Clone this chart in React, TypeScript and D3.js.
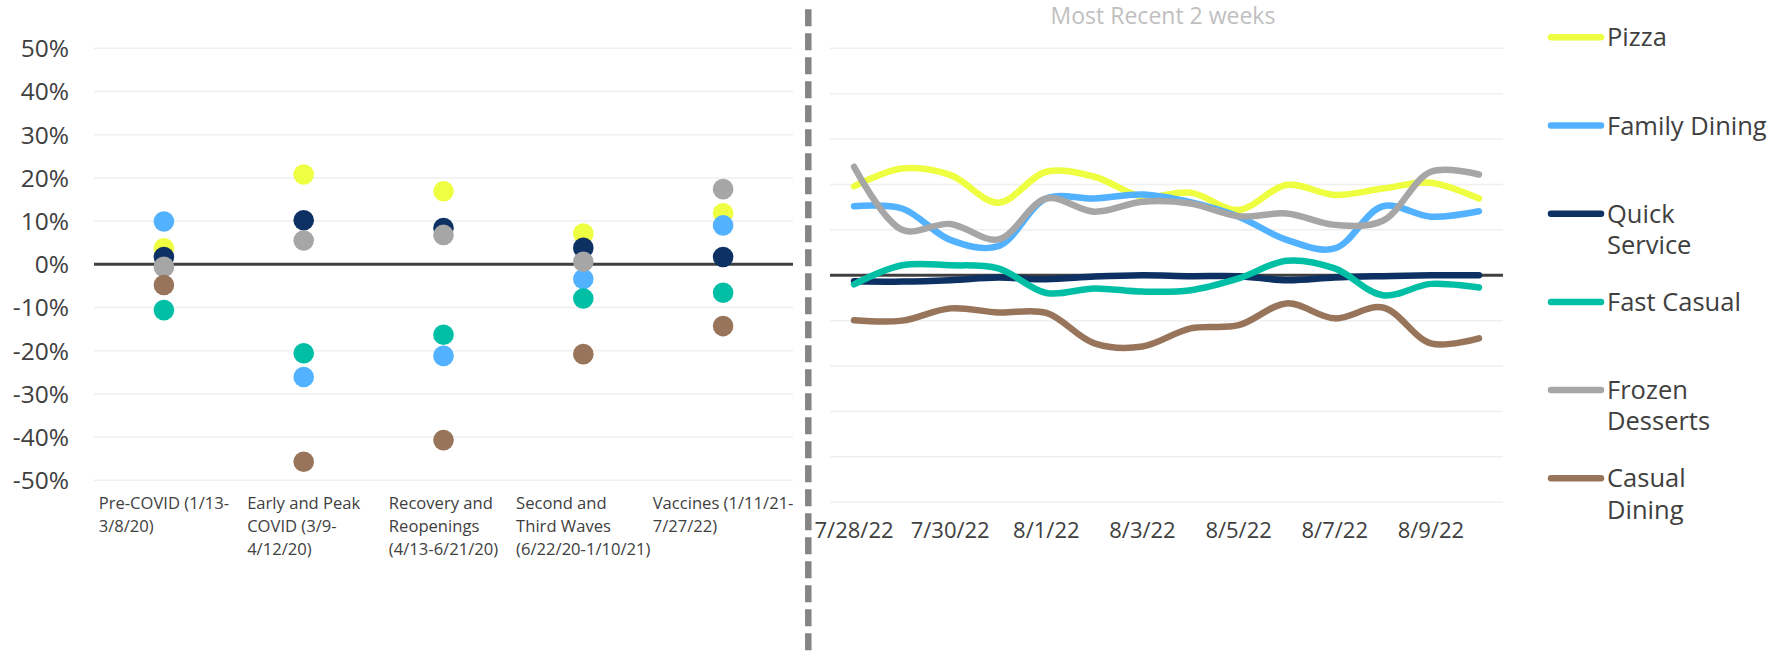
import React, { useEffect, useRef } from "react";
import * as d3 from "d3";

// period categories (left chart), each label already split in lines
const periodLabels = [
  ["Pre-COVID (1/13-", "3/8/20)"],
  ["Early and Peak", "COVID (3/9-", "4/12/20)"],
  ["Recovery and", "Reopenings", "(4/13-6/21/20)"],
  ["Second and", "Third Waves", "(6/22/20-1/10/21)"],
  ["Vaccines (1/11/21-", "7/27/22)"],
];

const seriesNames = ["Pizza", "Family Dining", "Quick Service", "Fast Casual", "Frozen Desserts", "Casual Dining"];
const legendLines = [["Pizza"], ["Family Dining"], ["Quick", "Service"], ["Fast Casual"], ["Frozen", "Desserts"], ["Casual", "Dining"]];
const seriesColors = ["#EEFF41", "#52B2FF", "#0D3163", "#00BFA5", "#A6A6A6", "#98755A"];

// % change by period
const pizzaPeriods = [3.7, 20.8, 16.9, 7.1, 11.8];
const familyPeriods = [9.9, -26.1, -21.2, -3.4, 9.0];
const quickPeriods = [1.7, 10.2, 8.4, 3.8, 1.7];
const fastPeriods = [-10.6, -20.6, -16.3, -7.9, -6.6];
const frozenPeriods = [-0.6, 5.5, 6.8, 0.6, 17.4];
const casualPeriods = [-4.8, -45.7, -40.7, -20.8, -14.3];

// most recent 2 weeks, daily
const dates = ["7/28/22", "7/29/22", "7/30/22", "7/31/22", "8/1/22", "8/2/22", "8/3/22", "8/4/22", "8/5/22", "8/6/22", "8/7/22", "8/8/22", "8/9/22", "8/10/22"];
const pizzaDaily = [19.6, 23.5, 22.1, 16.0, 22.8, 21.7, 17.3, 18.2, 14.4, 19.9, 17.7, 19.1, 20.4, 16.9];
const familyDaily = [15.2, 14.7, 7.8, 6.4, 16.9, 16.9, 17.8, 16.1, 12.9, 7.8, 5.9, 15.2, 12.9, 14.1];
const quickDaily = [-1.3, -1.4, -1.1, -0.5, -0.9, -0.3, 0, -0.2, -0.2, -1.1, -0.5, -0.2, 0, 0];
const fastDaily = [-2.0, 2.2, 2.2, 1.5, -3.9, -2.9, -3.6, -3.3, -0.7, 3.2, 1.5, -4.4, -1.9, -2.7];
const frozenDaily = [23.9, 10.0, 11.3, 7.9, 16.9, 14.0, 16.2, 15.8, 13.0, 13.6, 11.1, 12.0, 22.8, 22.2];
const casualDaily = [-9.9, -10.0, -7.3, -8.2, -8.3, -15.0, -15.7, -11.7, -11.0, -6.2, -9.5, -7.1, -15.0, -13.9];

const yTicks = [50, 40, 30, 20, 10, 0, -10, -20, -30, -40, -50];

const periodSeries = [pizzaPeriods, familyPeriods, quickPeriods, fastPeriods, frozenPeriods, casualPeriods];
const dailySeries = [pizzaDaily, familyDaily, quickDaily, fastDaily, frozenDaily, casualDaily];

const W = 1791;
const H = 652;
const FONT = "'Open Sans', sans-serif";
const TEXT = "#404040";
const GRID = "#EFEFEF";

export default function App() {
  const ref = useRef<SVGSVGElement>(null);

  useEffect(() => {
    if (!ref.current) return;
    const svg = d3.select(ref.current);
    svg.selectAll("*").remove();

    // ---- left: dots by period
    const xL = d3.scaleBand().domain(d3.range(periodLabels.length).map(String)).range([94, 793]);
    const yL = d3.scaleLinear().domain([-50, 50]).range([480.3, 48.3]);

    const left = svg.append("g");
    left.selectAll(".gl").data(yTicks.filter((d) => d !== 0)).enter().append("line")
      .attr("x1", 94).attr("x2", 793)
      .attr("y1", (d) => yL(d)).attr("y2", (d) => yL(d))
      .attr("stroke", GRID).attr("stroke-width", 1.5);
    left.append("line")
      .attr("x1", 94).attr("x2", 793).attr("y1", yL(0)).attr("y2", yL(0))
      .attr("stroke", "#404040").attr("stroke-width", 3);

    left.selectAll(".tl").data(yTicks).enter().append("text")
      .attr("x", 69).attr("y", (d) => yL(d)).attr("dy", "0.36em")
      .attr("text-anchor", "end")
      .attr("font-family", FONT).attr("font-size", 24.5).attr("fill", TEXT)
      .text((d) => `${d}%`);

    periodLabels.forEach((lines, i) => {
      const cx = xL(String(i))! + xL.bandwidth() / 2;
      const t = left.append("text")
        .attr("font-family", FONT).attr("font-size", 16.6).attr("fill", TEXT);
      lines.forEach((ln, j) => {
        t.append("tspan").attr("x", 0).attr("y", 509 + j * 23).text(ln);
      });
      const w = d3.max(t.selectAll<SVGTSpanElement, unknown>("tspan").nodes(), (n) => n.getComputedTextLength()) || 0;
      t.selectAll("tspan").attr("x", cx - w / 2);
    });

    periodSeries.forEach((vals, s) => {
      left.selectAll(`.dot${s}`).data(vals).enter().append("circle")
        .attr("cx", (_, i) => xL(String(i))! + xL.bandwidth() / 2)
        .attr("cy", (d) => yL(d))
        .attr("r", 10.3)
        .attr("fill", seriesColors[s]);
    });

    // ---- divider
    svg.append("line")
      .attr("x1", 808.3).attr("x2", 808.3).attr("y1", 9.3).attr("y2", H)
      .attr("stroke", "#858585").attr("stroke-width", 6.5)
      .attr("stroke-dasharray", "17 7");

    // ---- right: daily lines
    const xR = d3.scaleBand().domain(dates).range([830, 1503]);
    const yR = d3.scaleLinear().domain([-50, 50]).range([502.2, 48.3]);
    const cx = (d: string) => xR(d)! + xR.bandwidth() / 2;

    const right = svg.append("g");
    right.selectAll(".gr").data(yTicks.filter((d) => d !== 0)).enter().append("line")
      .attr("x1", 830).attr("x2", 1503)
      .attr("y1", (d) => yR(d)).attr("y2", (d) => yR(d))
      .attr("stroke", GRID).attr("stroke-width", 1.5);
    right.append("line")
      .attr("x1", 830).attr("x2", 1503).attr("y1", yR(0)).attr("y2", yR(0))
      .attr("stroke", "#404040").attr("stroke-width", 3);

    right.append("text")
      .attr("x", 1163).attr("y", 24).attr("text-anchor", "middle")
      .attr("font-family", FONT).attr("font-size", 23).attr("fill", "#BFBFBF")
      .text("Most Recent 2 weeks");

    right.selectAll(".dl").data(dates.filter((_, i) => i % 2 === 0)).enter().append("text")
      .attr("x", (d) => cx(d)).attr("y", 538.3).attr("text-anchor", "middle")
      .attr("font-family", FONT).attr("font-size", 22).attr("fill", TEXT)
      .text((d) => d);

    const line = d3.line<number>()
      .x((_, i) => cx(dates[i]))
      .y((d) => yR(d))
      .curve(d3.curveCatmullRom.alpha(0.5));

    dailySeries.forEach((vals, s) => {
      right.append("path")
        .attr("d", line(vals))
        .attr("fill", "none")
        .attr("stroke", seriesColors[s])
        .attr("stroke-width", 6.5)
        .attr("stroke-linecap", "round")
        .attr("stroke-linejoin", "round");
    });

    // ---- legend
    const legend = svg.append("g");
    seriesNames.forEach((name, s) => {
      const y = 37.3 + s * 88.2;
      legend.append("line")
        .attr("x1", 1551).attr("x2", 1601).attr("y1", y).attr("y2", y)
        .attr("stroke", seriesColors[s]).attr("stroke-width", 6.5)
        .attr("stroke-linecap", "round");
      const t = legend.append("text")
        .attr("font-family", FONT).attr("font-size", 25.5).attr("fill", TEXT);
      legendLines[s].forEach((ln, j) => {
        t.append("tspan").attr("x", 1607).attr("y", y + 9 + j * 31.3).text(ln);
      });
    });
  }, []);

  return (
    <div style={{ position: "absolute", left: 0, top: 0, width: W, height: H, background: "#fff" }}>
      <svg ref={ref} width={W} height={H} />
    </div>
  );
}
